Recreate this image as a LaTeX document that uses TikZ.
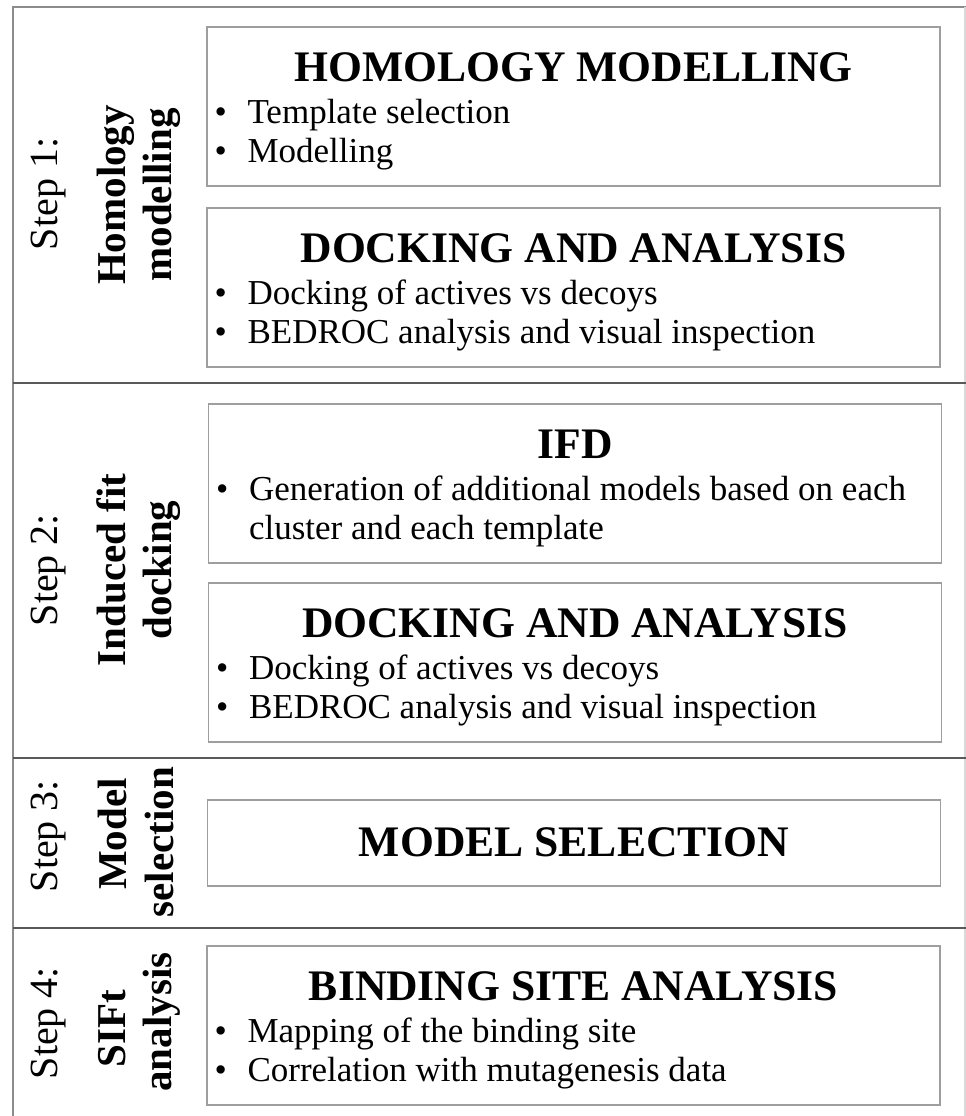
\documentclass[tikz,border=0pt]{standalone}
\usepackage{fontspec}
\setmainfont{Liberation Serif}
\begin{document}
\begin{tikzpicture}[x=1pt,y=-1pt,
	box/.style={draw=black!38, line width=1.3pt, minimum width=733pt, minimum height=159pt},
	head/.style={anchor=base, inner sep=0pt, font=\fontsize{43.6}{48}\selectfont\bfseries},
	item/.style={anchor=base west, inner sep=0pt, font=\fontsize{35}{40}\selectfont},
	steplbl/.style={rotate=90, anchor=base, inner sep=0pt, font=\fontsize{40}{46}\selectfont},
	phase/.style={rotate=90, anchor=base, inner sep=0pt, font=\fontsize{41}{46}\selectfont\bfseries}]
		\useasboundingbox (0,0) rectangle (966,1116);
		\draw [black!45, line width=1.3pt](966,7)--(13,7)--(13,1116);
		\draw [black!15, line width=1.3pt](965,7)--(965,1116);
		\draw [black!65, line width=1.3pt](13,383)--(966,383) (13,758)--(966,758) (13,928)--(966,928);

		\node[box] (b1) at (573.5,106.5) {};
		\node[box] (b2) at (573.5,287.5) {};
		\node[box] (b3) at (575,483.5) {};
		\node[box] (b4) at (575,662.5) {};
		\node[box, minimum height=86pt] (b5) at (574,843) {};
		\node[box] (b6) at (573.5,1025.5) {};

		\draw (b1.north)++(0,55) node[head](h1){HOMOLOGY MODELLING};
		\draw (b1.north west)++(8,97) node[item](i1a){\makebox[33pt][l]{\textbullet}Template selection};
		\draw (b1.north west)++(8,136) node[item](i1b){\makebox[33pt][l]{\textbullet}Modelling};

		\draw (b2.north)++(0,55) node[head](h2){DOCKING AND ANALYSIS};
		\draw (b2.north west)++(8,97) node[item](i2a){\makebox[33pt][l]{\textbullet}Docking of actives vs decoys};
		\draw (b2.north west)++(8,136) node[item](i2b){\makebox[33pt][l]{\textbullet}BEDROC analysis and visual inspection};

		\draw (b3.north)++(0,55) node[head](h3){IFD};
		\draw (b3.north west)++(8,97) node[item](i3a){\makebox[33pt][l]{\textbullet}Generation of additional models based on each};
		\draw (b3.north west)++(41,136) node[item](i3b){cluster and each template};

		\draw (b4.north)++(0,55) node[head](h4){DOCKING AND ANALYSIS};
		\draw (b4.north west)++(8,97) node[item](i4a){\makebox[33pt][l]{\textbullet}Docking of actives vs decoys};
		\draw (b4.north west)++(8,136) node[item](i4b){\makebox[33pt][l]{\textbullet}BEDROC analysis and visual inspection};

		\draw (b5.north)++(0,57) node[head](h5){MODEL SELECTION};

		\draw (b6.north)++(0,55) node[head](h6){BINDING SITE ANALYSIS};
		\draw (b6.north west)++(8,97) node[item](i6a){\makebox[33pt][l]{\textbullet}Mapping of the binding site};
		\draw (b6.north west)++(8,136) node[item](i6b){\makebox[33pt][l]{\textbullet}Correlation with mutagenesis data};

		\node[steplbl] (s1) at (57,194) {Step 1:};
		\node[phase] (p1a) at (125,195) {Homology};
		\node[phase] (p1b) at (171,195) {modelling};

		\node[steplbl] (s2) at (57,570) {Step 2:};
		\node[phase] (p2a) at (125,570) {Induced fit};
		\node[phase] (p2b) at (171,570) {docking};

		\node[steplbl] (s3) at (57,836) {Step 3:};
		\node[phase] (p3a) at (126,834) {Model};
		\node[phase] (p3b) at (173,842) {selection};

		\node[steplbl] (s4) at (57,1023) {Step 4:};
		\node[phase] (p4a) at (125,1029) {SIFt};
		\node[phase] (p4b) at (171,1022) {analysis};
	\end{tikzpicture}
\end{document}
